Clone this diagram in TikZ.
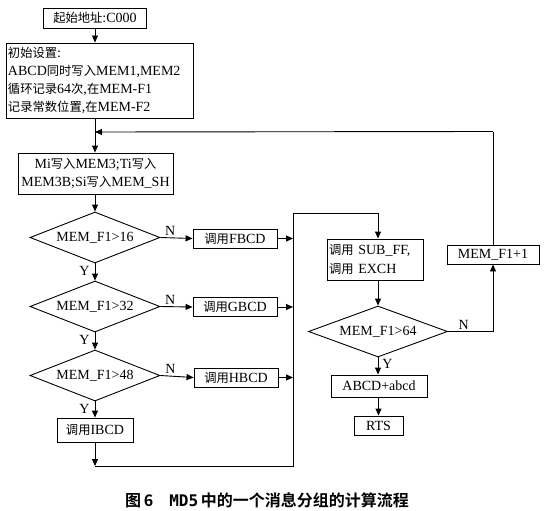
\documentclass[tikz,border=0pt]{standalone}
\usepackage{fontspec}
\setmainfont{Liberation Serif}
\newfontfamily\cjk{Noto Sans CJK SC}
\newfontfamily\cjkb{Noto Sans CJK SC Bold}
\newfontfamily\capmono{DejaVu Sans Mono}
\usetikzlibrary{shapes.geometric,arrows.meta}
\newcommand{\zh}[1]{{\cjk\fontsize{12.3pt}{14pt}\selectfont #1}}
\begin{document}
\begin{tikzpicture}[x=1pt,y=-1pt,
  every node/.style={font=\fontsize{14pt}{18pt}\selectfont},
  line/.style={line width=0.9pt},
  arr/.style={line width=0.9pt,-{Triangle[length=7pt,width=6pt]}},
  box/.style={draw,line width=0.9pt,inner sep=2pt,align=center},
  dia/.style={draw,line width=0.9pt,diamond,aspect=2.55,inner sep=0pt},
  lab/.style={inner sep=0pt,font=\fontsize{14pt}{14pt}\selectfont}]
\useasboundingbox (0,0) rectangle (546,511);

\node[box,minimum width=103pt,minimum height=20pt] (start) at (95,18) {\zh{起始地址}:C000};
\node[box,text width=183pt,align=left,minimum height=75pt] (init) at (99.5,80.5)
  {\zh{初始设置}:\\ABCD\zh{同时写入}MEM1,MEM2\\\zh{循环记录}64\zh{次},\zh{在}MEM-F1\\\zh{记录常数位置},\zh{在}MEM-F2};
\node[box,minimum width=155pt,minimum height=41pt,font=\fontsize{14pt}{18pt}\selectfont] (mi) at (95.5,173.5)
  {Mi\zh{写入}MEM3;Ti\zh{写入}\\MEM3B;Si\zh{写入}MEM\_SH};
\coordinate (join) at (95,132);

\node[dia,minimum width=130pt,minimum height=51pt] (d1) at (95,237.5) {MEM\_F1>16};
\node[dia,minimum width=130pt,minimum height=51pt] (d2) at (95,306.5) {MEM\_F1>32};
\node[dia,minimum width=130pt,minimum height=51pt] (d3) at (95,375.5) {MEM\_F1>48};
\node[box,minimum width=76pt,minimum height=24pt] (ib) at (95,430) {\zh{调用}IBCD};
\coordinate (bl) at (95,466);
\coordinate (br) at (293,466);
\coordinate (tr) at (293,213);

\node[box,minimum width=84pt,minimum height=19pt] (fb) at (235,238.5) {\zh{调用}FBCD};
\node[box,minimum width=84pt,minimum height=19pt] (gb) at (235,307) {\zh{调用}GBCD};
\node[box,minimum width=84pt,minimum height=19pt] (hb) at (236,377.5) {\zh{调用}HBCD};

\node[box,text width=92pt,align=left,minimum height=41pt,font=\fontsize{14pt}{19pt}\selectfont] (sub) at (375,259.5)
  {\zh{调用} SUB\_FF,\\\zh{调用} EXCH};
\coordinate (tc) at (378,213);
\node[dia,minimum width=139pt,minimum height=51pt] (d4) at (378,331.5) {MEM\_F1>64};
\node[box,minimum width=96pt,minimum height=22pt] (abcd) at (379,386) {ABCD+abcd};
\node[box,minimum width=49pt,minimum height=19pt] (rts) at (378.5,425.5) {RTS};
\node[box,minimum width=92pt,minimum height=19pt] (inc) at (493,254.5) {MEM\_F1+1};
\coordinate (d4r) at (493,331.5);
\coordinate (fbk) at (493,131.5);

% main column
\draw[arr] (start.south) -- (init.north -| start.south);
\draw[arr] (init.south -| join) -- (mi.north -| join);
\draw[arr] (mi.south -| d1.north) -- (d1.north);
\draw[arr] (d1.south) -- node[lab,pos=0.45,left=5pt]{Y} (d2.north);
\draw[arr] (d2.south) -- node[lab,pos=0.45,left=5pt]{Y} (d3.north);
\draw[arr] (d3.south) -- node[lab,pos=0.45,left=5pt]{Y} (ib.north);
\draw[arr] (ib.south) -- (bl);
\draw[line] (bl) -- (br) -- (tr) -- (tc);
\draw[arr] (tc) -- (sub.north -| tc);

% N branches
\draw[arr] (d1.east) -- node[lab,pos=0.3,above=2pt]{N} (fb.west);
\draw[arr] (d2.east) -- node[lab,pos=0.3,above=2pt]{N} (gb.west);
\draw[arr] (d3.east) -- node[lab,pos=0.3,above=2pt]{N} (hb.west);
\draw[arr] (fb.east) -- (fb.east -| tr);
\draw[arr] (gb.east) -- (gb.east -| tr);
\draw[arr] (hb.east) -- (hb.east -| tr);

% right column
\draw[arr] (sub.south -| d4.north) -- (d4.north);
\draw[arr] (d4.south) -- node[lab,pos=0.4,right=4pt]{Y} (abcd.north -| d4.south);
\draw[arr] (abcd.south -| rts.north) -- (rts.north);
\draw[line] (d4.east) -- node[lab,pos=0.35,above=2pt]{N} (d4r);
\draw[arr] (d4r) -- (inc.south);
\draw[line] (inc.north) -- (fbk);
\draw[arr] (fbk) -- (join);

\node[inner sep=0pt,font=\fontsize{16pt}{16pt}\selectfont] (cap) at (267,500)
  {\cjkb 图\,6\quad{\capmono\bfseries MD5}\,中的一个消息分组的计算流程};
\end{tikzpicture}
\end{document}
